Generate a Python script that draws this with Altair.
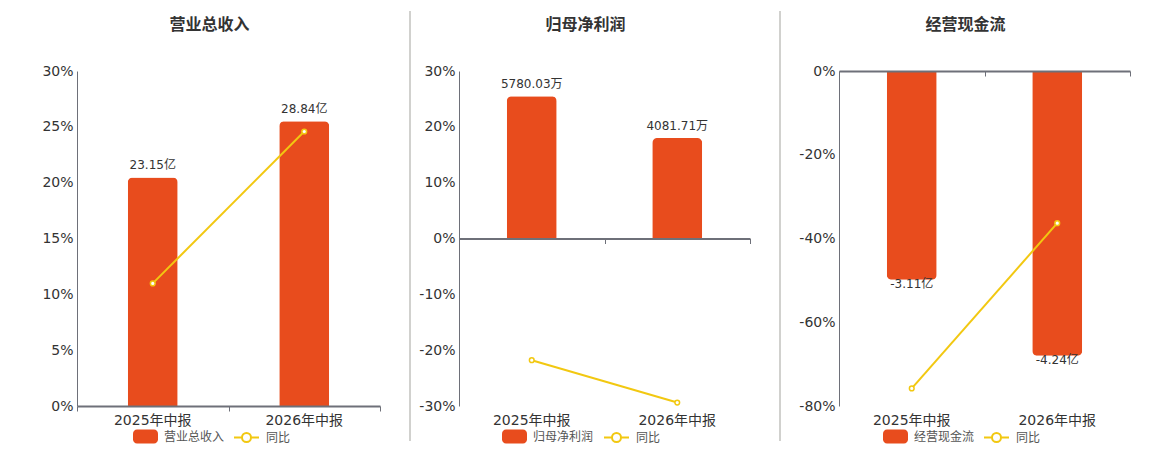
import altair as alt
import pandas as pd

periods = ["2025年中报", "2026年中报"]

titles = ["营业总收入", "归母净利润", "经营现金流"]
bar_values = [[23.15, 28.84], [5780.03, 4081.71], [-3.11, -4.24]]
bar_labels = [["23.15亿", "28.84亿"], ["5780.03万", "4081.71万"], ["-3.11亿", "-4.24亿"]]
yoy_values = [[10.98, 24.58], [-21.8, -29.38], [-75.8, -36.33]]
yoy_ticks = [[0, 5, 10, 15, 20, 25, 30], [-30, -20, -10, 0, 10, 20, 30], [-80, -60, -40, -20, 0]]
yoy_name = "同比"

BAR_COLOR = "#e84c1d"
LINE_COLOR = "#f2c811"
AXIS_COLOR = "#6e7079"
GRID_COLOR = "#e0e6f1"
TEXT_COLOR = "#333333"
FONT = "DejaVu Sans, Noto Sans CJK SC, sans-serif"

H = 335
widths = [303, 291, 291]
extents = [64, 59, 69]
legend_x = [[56, 156], [43, 144], [44, 144]]
sep_x = [None, -49, -59]
title_offsets = [31, -22, -22]

rect_path = ("M-0.68,-0.56L0.68,-0.56A0.32,0.32 0 0 1 1,-0.24L1,0.24"
             "A0.32,0.32 0 0 1 0.68,0.56L-0.68,0.56A0.32,0.32 0 0 1 -1,0.24"
             "L-1,-0.24A0.32,0.32 0 0 1 -0.68,-0.56Z")
line_path = ("M-1,0L-0.36,0M0.36,0L1,0M-0.36,0A0.36,0.36 0 1 1 0.36,0"
             "A0.36,0.36 0 1 1 -0.36,0Z")


def panel(i):
    df = pd.DataFrame({
        "period": periods,
        "value": bar_values[i],
        "label": bar_labels[i],
        "yoy": yoy_values[i],
        "series": [titles[i]] * len(periods),
        "yname": [yoy_name] * len(periods),
    })
    ticks = yoy_ticks[i]
    lo, hi = min(ticks), max(ticks)
    vmax = max(abs(v) for v in bar_values[i])
    blo = -vmax / 0.85 if lo < 0 else 0
    bhi = vmax / 0.85 if hi > 0 else 0
    neg = all(v < 0 for v in bar_values[i])
    zero_offset = -H * (0 - lo) / (hi - lo)

    base = alt.Chart(df)
    xenc_main = alt.X(
        "period:N", sort=periods, title=None,
        scale=alt.Scale(paddingInner=0, paddingOuter=0),
        axis=alt.Axis(orient="bottom", domain=False, ticks=False, labelAngle=0, labelFontSize=14,
                      labelColor=TEXT_COLOR, labelFont=FONT, labelPadding=7, grid=False),
    )
    xenc_zero = alt.X(
        "period:N", sort=periods, title=None,
        axis=alt.Axis(orient="bottom", labels=False, domain=True, domainColor=AXIS_COLOR,
                      domainWidth=2, ticks=True, tickColor=AXIS_COLOR, tickSize=5,
                      tickBand="extent", grid=False, offset=zero_offset, zindex=1),
    )
    ybar = alt.Y("value:Q", scale=alt.Scale(domain=[blo, bhi], nice=False, zero=True), axis=None)

    if neg:
        bar_mark = base.mark_bar(width=50, cornerRadiusBottomLeft=5, cornerRadiusBottomRight=5)
        text_mark = base.mark_text(baseline="top", dy=-1, fontSize=12, font=FONT, color=TEXT_COLOR)
    else:
        bar_mark = base.mark_bar(width=50, cornerRadiusTopLeft=5, cornerRadiusTopRight=5)
        text_mark = base.mark_text(baseline="bottom", dy=-5, fontSize=12, font=FONT, color=TEXT_COLOR)

    bars = bar_mark.encode(
        x=xenc_main, y=ybar,
        color=alt.Color("series:N", scale=alt.Scale(range=[BAR_COLOR]),
                        legend=alt.Legend(orient="none", legendX=legend_x[i][0], legendY=H + 18,
                                          title=None, symbolType=rect_path, symbolSize=625,
                                          symbolStrokeWidth=0, labelFontSize=12, labelFont=FONT,
                                          labelColor="#555555", labelOffset=6)),
    )
    texts = text_mark.encode(x=alt.X("period:N", sort=periods), y=ybar, text="label:N")

    yline = alt.Y("yoy:Q", scale=alt.Scale(domain=[lo, hi], nice=False), title=None,
                  axis=alt.Axis(orient="left", values=ticks, labelExpr="datum.value + '%'",
                                labelFontSize=14, labelColor=TEXT_COLOR, labelFont=FONT,
                                ticks=False, domain=True, domainColor=AXIS_COLOR, domainWidth=1,
                                gridColor=GRID_COLOR, labelPadding=4, minExtent=extents[i]))
    line = base.mark_line(strokeWidth=2).encode(
        x=xenc_zero, y=yline,
        stroke=alt.Stroke("yname:N", scale=alt.Scale(range=[LINE_COLOR]),
                          legend=alt.Legend(orient="none", legendX=legend_x[i][1], legendY=H + 18,
                                            title=None, symbolType=line_path, symbolSize=625,
                                            symbolStrokeWidth=2, symbolFillColor="#ffffff",
                                            labelFontSize=12, labelFont=FONT,
                                            labelColor="#555555", labelOffset=6)),
    )
    pts = base.mark_point(filled=True, fill="#ffffff", stroke=LINE_COLOR, strokeWidth=1.5,
                          size=22, opacity=1).encode(
        x=alt.X("period:N", sort=periods), y=alt.Y("yoy:Q"))

    layers = [alt.layer(bars, texts), alt.layer(line, pts)]
    if sep_x[i] is not None:
        sep = alt.Chart(pd.DataFrame({"k": [0]})).mark_rule(color="#a3a39d", strokeWidth=1).encode(
            x=alt.value(sep_x[i]), y=alt.value(-60), y2=alt.value(370))
        layers.append(sep)

    ch = alt.layer(*layers).resolve_scale(y="independent").resolve_axis(x="independent").properties(
        width=widths[i], height=H,
        title=alt.TitleParams(titles[i], fontSize=16, fontWeight="bold", font=FONT,
                              color=TEXT_COLOR, offset=title_offsets[i], dx=-19, anchor="middle"),
    )
    return ch


chart = alt.hconcat(panel(0), panel(1), panel(2), spacing=19).resolve_scale(
    color="independent", stroke="independent", y="independent"
).resolve_legend(color="independent", stroke="independent").properties(
    padding={"left": 5, "top": 2, "right": 5, "bottom": 0}, background="#ffffff"
).configure_view(stroke=None, strokeWidth=0)

chart.save("out.html", embed_options={"renderer": "svg", "actions": False})
